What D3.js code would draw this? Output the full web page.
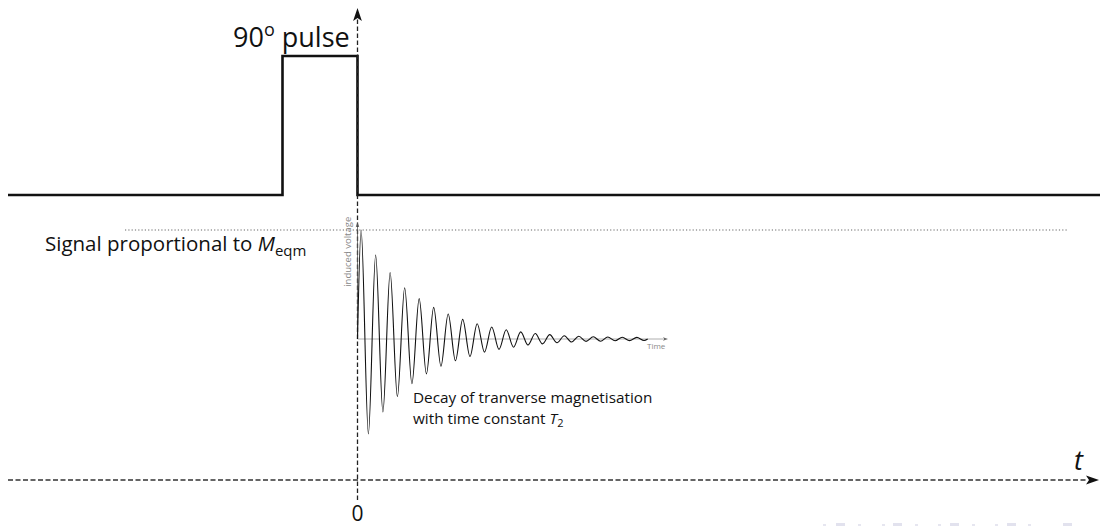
<!DOCTYPE html>
<html><head><meta charset="utf-8">
<script src="https://cdn.jsdelivr.net/npm/d3@7/dist/d3.min.js"></script>
<style>
body{margin:0;background:#fff}
svg{display:block}
text{font-family:"Open Sans","DejaVu Sans",sans-serif}
</style>
</head><body>
<svg id="c" width="1100" height="526"></svg>
<script>
// ---- data ----
const pulseTime  = [-4.66, -1, -1, 0, 0, 9.9];
const pulseLevel = [0, 0, 1, 1, 0, 0];

const fidTime = [0, 0.25, 0.75, 1.25, 1.75, 2.25, 2.75, 3.25, 3.75, 4.25, 4.75,
  5.25, 5.75, 6.25, 6.75, 7.25, 7.75, 8.25, 8.75, 9.25, 9.75,
  10.25, 10.75, 11.25, 11.75, 12.25, 12.75, 13.25, 13.75, 14.25, 14.75,
  15.25, 15.75, 16.25, 16.75, 17.25, 17.75, 18.25, 18.75, 19.25, 19.75, 20];
const fidVoltage = [0, 1.00, -0.87, 0.77, -0.67, 0.61, -0.53, 0.47, -0.41, 0.37, -0.32,
  0.29, -0.25, 0.23, -0.20, 0.18, -0.16, 0.14, -0.12, 0.11, -0.095,
  0.085, -0.075, 0.065, -0.055, 0.05, -0.045, 0.04, -0.035, 0.03, -0.028,
  0.025, -0.022, 0.02, -0.02, 0.018, -0.016, 0.016, -0.015, 0.015, -0.014, 0];

const mEqmLevel = 1.0;          // dotted reference level (signal proportional to M_eqm)
const timeTickLabels = ["0"];
const timeTickValues = [0];

// ---- scales ----
const svg = d3.select("#c");
const xMain = d3.scaleLinear().domain([-4.66, 9.9]).range([8, 1100]);
const yPulse = d3.scaleLinear().domain([0, 1]).range([195, 56]);
const xFid = d3.scaleLinear().domain([0, 21.4]).range([357.5, 668]);
const yFid = d3.scaleLinear().domain([-1, 1]).range([448, 230]);
const axisY = 480;

function arrow(x, y, ang, len, hw, notch, fill) {
  const c = Math.cos(ang), s = Math.sin(ang);
  const pts = [[0,0],[-len,-hw],[-len+notch,0],[-len,hw]].map(([a,b]) =>
    [x + a*c - b*s, y + a*s + b*c]);
  svg.append("path").attr("d", "M" + pts.map(p => p.join(",")).join("L") + "Z")
    .attr("fill", fill);
}

// ---- pulse ----
svg.append("path")
  .datum(pulseTime.map((t, i) => [t, pulseLevel[i]]))
  .attr("d", d3.line().x(d => xMain(d[0])).y(d => yPulse(d[1])))
  .attr("fill", "none").attr("stroke", "#111").attr("stroke-width", 2.6)
  .attr("stroke-linejoin", "miter");

// ---- main time axis (dashed) ----
svg.append("line")
  .attr("x1", xMain(-4.66)).attr("x2", 1088).attr("y1", axisY).attr("y2", axisY)
  .attr("stroke", "#333").attr("stroke-width", 1.4).attr("stroke-dasharray", "5,2.5");
arrow(1099, axisY, 0, 13, 4.6, 3, "#111");

svg.append("line")
  .attr("x1", xMain(0)).attr("x2", xMain(0)).attr("y1", 500).attr("y2", 19)
  .attr("stroke", "#222").attr("stroke-width", 1.3).attr("stroke-dasharray", "4.5,2.5");
arrow(xMain(0), 8, -Math.PI/2, 13, 4.4, 3, "#111");

svg.selectAll("text.tick").data(timeTickValues).enter().append("text")
  .attr("class", "tick")
  .attr("x", d => xMain(d)).attr("y", 521).attr("text-anchor", "middle")
  .attr("font-size", 21).attr("fill", "#111")
  .text((d, i) => timeTickLabels[i]);

svg.append("text").attr("x", 1074).attr("y", 470)
  .attr("font-size", 27).attr("font-style", "italic").attr("fill", "#111").text("t");

// ---- pulse label ----
const pl = svg.append("text").attr("x", 233).attr("y", 47)
  .attr("font-size", 27).attr("fill", "#111");
pl.append("tspan").text("90");
pl.append("tspan").attr("font-size", 18).attr("dy", -11).text("o");
pl.append("tspan").attr("dy", 11).text(" pulse");

// ---- dotted M_eqm level ----
svg.append("line")
  .attr("x1", 125).attr("x2", 1068).attr("y1", yFid(mEqmLevel)).attr("y2", yFid(mEqmLevel))
  .attr("stroke", "#666").attr("stroke-width", 1.1).attr("stroke-dasharray", "1.2,2.1");

const sl = svg.append("text").attr("x", 45).attr("y", 251)
  .attr("font-size", 20.5).attr("fill", "#111");
sl.append("tspan").text("Signal proportional to ");
sl.append("tspan").attr("font-style", "italic").text("M");
sl.append("tspan").attr("font-size", 15).attr("dy", 5).text("eqm");

// ---- inner FID plot ----
svg.append("line")
  .attr("x1", xFid(0)).attr("x2", xFid(21.4) - 5).attr("y1", yFid(0)).attr("y2", yFid(0))
  .attr("stroke", "#999").attr("stroke-width", 0.8);
arrow(xFid(21.4), yFid(0), 0, 5, 1.8, 1, "#666");

svg.append("line")
  .attr("x1", xFid(0)).attr("x2", xFid(0)).attr("y1", yFid(0)).attr("y2", yFid(1.07) + 4)
  .attr("stroke", "#555").attr("stroke-width", 0.8);
arrow(xFid(0), yFid(1.07), -Math.PI/2, 5, 1.8, 1, "#555");

svg.append("path")
  .datum(fidTime.map((t, i) => [t, fidVoltage[i]]))
  .attr("d", d3.line().x(d => xFid(d[0])).y(d => yFid(d[1])).curve(d3.curveMonotoneX))
  .attr("fill", "none").attr("stroke", "#111").attr("stroke-width", 1.1);

svg.append("text")
  .attr("transform", `translate(351,${yFid(0.8)}) rotate(-90)`)
  .attr("text-anchor", "middle").attr("font-size", 9.5).attr("fill", "#888")
  .text("induced voltage");

svg.append("text").attr("x", 647).attr("y", 349)
  .attr("font-size", 8).attr("fill", "#888").text("Time");

// ---- decay label (two lines) ----
svg.append("text").attr("x", 413).attr("y", 402.5)
  .attr("font-size", 15.3).attr("fill", "#111")
  .text("Decay of tranverse magnetisation");
const l2 = svg.append("text").attr("x", 413).attr("y", 423.5)
  .attr("font-size", 15.3).attr("fill", "#111");
l2.append("tspan").text("with time constant ");
l2.append("tspan").attr("font-style", "italic").text("T");
l2.append("tspan").attr("font-size", 11).attr("dy", 3).text("2");

// ---- faint navigation symbols ----
const navX = [836, 893, 950, 1007, 1063];
svg.selectAll("rect.nav").data(navX).enter().append("rect")
  .attr("x", d => d).attr("y", 523).attr("width", 9).attr("height", 3)
  .attr("fill", "#e2e2ee");
const navDots = [823, 858, 882, 915, 938, 972, 995, 1028];
svg.selectAll("rect.dot").data(navDots).enter().append("rect")
  .attr("x", d => d).attr("y", 524).attr("width", 3).attr("height", 2)
  .attr("fill", "#e6e6f0");
</script>
</body></html>
